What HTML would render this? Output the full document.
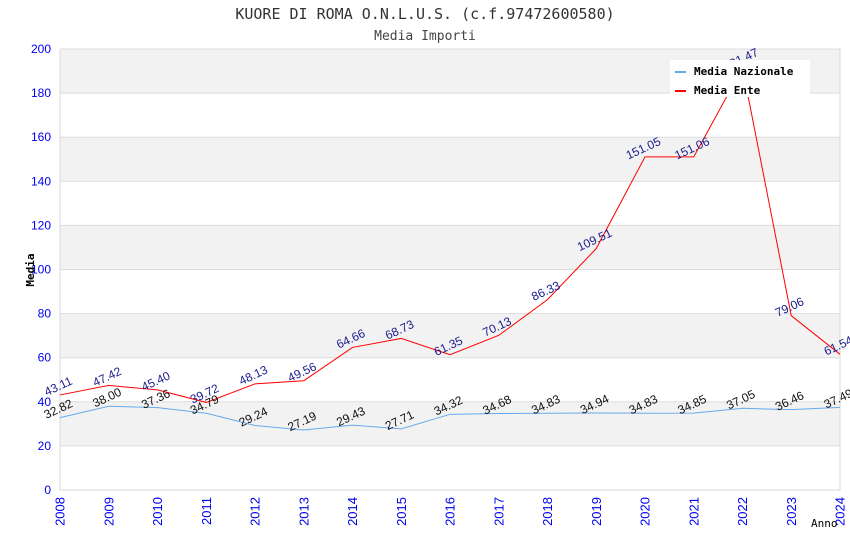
<!DOCTYPE html>
<html><head><meta charset="utf-8"><style>
html,body{margin:0;padding:0;background:#fff;width:850px;height:550px;overflow:hidden}
svg text{font-family:"Liberation Sans","DejaVu Sans",sans-serif}
.mono{font-family:"DejaVu Sans Mono","Liberation Mono",monospace}
</style></head><body>
<svg id="chart" width="850" height="550" xmlns="http://www.w3.org/2000/svg">
<text class="mono" x="425" y="19" text-anchor="middle" font-size="15" fill="#333">KUORE DI ROMA O.N.L.U.S. (c.f.97472600580)</text>
<text class="mono" x="425" y="40" text-anchor="middle" font-size="13" fill="#444">Media Importi</text>
<g id="bands"></g><g id="grid"></g><g id="axes"></g><g id="series"></g><g id="labels"></g>
<g>
<rect x="670" y="60" width="140" height="37" fill="#fff"/>
<line x1="675" y1="72" x2="686" y2="72" stroke="#66aaee" stroke-width="2"/>
<text class="mono" x="694" y="75" font-size="11" font-weight="bold" fill="#000">Media Nazionale</text>
<line x1="675" y1="91" x2="686" y2="91" stroke="#ff0000" stroke-width="2"/>
<text class="mono" x="694" y="94" font-size="11" font-weight="bold" fill="#000">Media Ente</text>
</g>
<text class="mono" transform="translate(34,270) rotate(-90)" text-anchor="middle" font-size="11" font-weight="bold" fill="#000">Media</text>
<text class="mono" x="811" y="527" font-size="11" fill="#000">Anno</text>
</svg>
<script>
const years=[2008,2009,2010,2011,2012,2013,2014,2015,2016,2017,2018,2019,2020,2021,2022,2023,2024];
const nazionale=[32.82,38.00,37.36,34.79,29.24,27.19,29.43,27.71,34.32,34.68,34.83,34.94,34.83,34.85,37.05,36.46,37.49];
const ente=[43.11,47.42,45.40,39.72,48.13,49.56,64.66,68.73,61.35,70.13,86.33,109.51,151.05,151.06,191.47,79.06,61.54];
const yTicks=[0,20,40,60,80,100,120,140,160,180,200];
const L=60,R=840,T=49,B=490,YMAX=200;
const xs=i=>L+i*(R-L)/(years.length-1);
const ys=v=>B-v/YMAX*(B-T);
const NS="http://www.w3.org/2000/svg";
function mk(tag,attrs,parent,txt){const e=document.createElementNS(NS,tag);for(const k in attrs)e.setAttribute(k,attrs[k]);if(txt!==undefined)e.textContent=txt;document.getElementById(parent).appendChild(e);return e;}
for(let i=0;i<yTicks.length-1;i++){
  if(i%2===1){const r=mk('rect',{x:L,y:ys(yTicks[i+1]),width:R-L,height:ys(yTicks[i])-ys(yTicks[i+1]),fill:'#f2f2f2'},'bands');
  
  }
}
yTicks.forEach(t=>{
  const g=mk('line',{x1:L,x2:R,y1:ys(t),y2:ys(t),stroke:'#dddddd','stroke-width':1},'grid');
  
  
  const tx=mk('text',{x:L-9,y:ys(t)+4,'text-anchor':'end','font-size':12,fill:'#0000ee'},'axes',String(t));
  
  
});
const ax=mk('path',{d:`M${L},${T}V${B}H${R}V${T}`,fill:'none',stroke:'#d8d8d8','stroke-width':1},'axes');


years.forEach((y,i)=>{
  const t=mk('text',{transform:`translate(${xs(i)+4.5},497) rotate(-90)`,'text-anchor':'end','font-size':13,fill:'#0000ee'},'axes',String(y));
  
  
});
function series(data,color,lblColor,name){
  const p=mk('polyline',{points:data.map((v,i)=>xs(i)+','+ys(v)).join(' '),fill:'none',stroke:color,'stroke-width':1},'series');
  
  
  data.forEach((v,i)=>{
    const t=mk('text',{transform:`translate(${xs(i)},${ys(v)-5}) rotate(-25)`,'text-anchor':'middle','font-size':12,fill:lblColor},'labels',v.toFixed(2));
    
    
  });
}
series(nazionale,'#66aaee','#111','nazionale');
series(ente,'#ff0000','#1a1a8c','ente');
</script>
</body></html>
